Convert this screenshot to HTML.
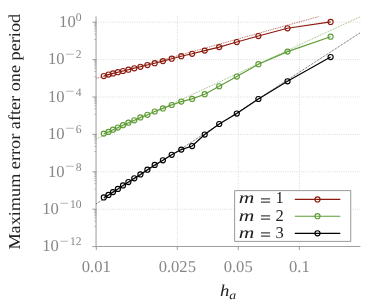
<!DOCTYPE html>
<html><head><meta charset="utf-8"><title>plot</title>
<style>
html,body{margin:0;padding:0;background:#fff;}
body{width:391px;height:304px;overflow:hidden;font-family:"Liberation Serif",serif;}
svg{display:block;will-change:transform;}
text{font-family:"Liberation Serif",serif;text-rendering:geometricPrecision;}
.tl{fill:#878787;}
.sup{font-size:11.5px;}
.dk{fill:#222;}
</style></head><body>
<svg width="391" height="304" viewBox="0 0 391 304">
<rect width="391" height="304" fill="#fff"/>
<g stroke="#808080" stroke-width="0.6" stroke-dasharray="0.65 1.6" opacity="0.7"><line x1="96.3" y1="22.20" x2="360.4" y2="22.20"/><line x1="96.3" y1="59.60" x2="360.4" y2="59.60"/><line x1="96.3" y1="97.00" x2="360.4" y2="97.00"/><line x1="96.3" y1="134.40" x2="360.4" y2="134.40"/><line x1="96.3" y1="171.80" x2="360.4" y2="171.80"/><line x1="96.3" y1="209.20" x2="360.4" y2="209.20"/><line x1="177.3" y1="16.5" x2="177.3" y2="246.5"/><line x1="238.2" y1="16.5" x2="238.2" y2="246.5"/><line x1="299.4" y1="16.5" x2="299.4" y2="246.5"/></g>
<g stroke="#808080" stroke-width="0.75"><line x1="96.05" y1="16.5" x2="96.05" y2="246.5" stroke-width="0.8"/><line x1="96.3" y1="246.5" x2="360.4" y2="246.5"/><line x1="92.3" y1="22.20" x2="96.3" y2="22.20"/><line x1="92.3" y1="59.60" x2="96.3" y2="59.60"/><line x1="92.3" y1="97.00" x2="96.3" y2="97.00"/><line x1="92.3" y1="134.40" x2="96.3" y2="134.40"/><line x1="92.3" y1="171.80" x2="96.3" y2="171.80"/><line x1="92.3" y1="209.20" x2="96.3" y2="209.20"/><line x1="92.3" y1="246.60" x2="96.3" y2="246.60"/><line x1="96.3" y1="246.5" x2="96.3" y2="250.1"/><line x1="177.3" y1="246.5" x2="177.3" y2="250.1"/><line x1="238.2" y1="246.5" x2="238.2" y2="250.1"/><line x1="299.4" y1="246.5" x2="299.4" y2="250.1"/></g>
<g stroke="#808080" stroke-width="0.6" opacity="0.8"><line x1="94.2" y1="23.15" x2="96.3" y2="23.15"/><line x1="94.2" y1="24.22" x2="96.3" y2="24.22"/><line x1="94.2" y1="25.45" x2="96.3" y2="25.45"/><line x1="94.2" y1="26.91" x2="96.3" y2="26.91"/><line x1="94.2" y1="28.68" x2="96.3" y2="28.68"/><line x1="94.2" y1="30.96" x2="96.3" y2="30.96"/><line x1="94.2" y1="34.14" x2="96.3" y2="34.14"/><line x1="94.2" y1="39.42" x2="96.3" y2="39.42"/><line x1="94.2" y1="60.55" x2="96.3" y2="60.55"/><line x1="94.2" y1="61.62" x2="96.3" y2="61.62"/><line x1="94.2" y1="62.85" x2="96.3" y2="62.85"/><line x1="94.2" y1="64.31" x2="96.3" y2="64.31"/><line x1="94.2" y1="66.08" x2="96.3" y2="66.08"/><line x1="94.2" y1="68.36" x2="96.3" y2="68.36"/><line x1="94.2" y1="71.54" x2="96.3" y2="71.54"/><line x1="94.2" y1="76.82" x2="96.3" y2="76.82"/><line x1="94.2" y1="97.95" x2="96.3" y2="97.95"/><line x1="94.2" y1="99.02" x2="96.3" y2="99.02"/><line x1="94.2" y1="100.25" x2="96.3" y2="100.25"/><line x1="94.2" y1="101.71" x2="96.3" y2="101.71"/><line x1="94.2" y1="103.48" x2="96.3" y2="103.48"/><line x1="94.2" y1="105.76" x2="96.3" y2="105.76"/><line x1="94.2" y1="108.94" x2="96.3" y2="108.94"/><line x1="94.2" y1="114.22" x2="96.3" y2="114.22"/><line x1="94.2" y1="135.35" x2="96.3" y2="135.35"/><line x1="94.2" y1="136.42" x2="96.3" y2="136.42"/><line x1="94.2" y1="137.65" x2="96.3" y2="137.65"/><line x1="94.2" y1="139.11" x2="96.3" y2="139.11"/><line x1="94.2" y1="140.88" x2="96.3" y2="140.88"/><line x1="94.2" y1="143.16" x2="96.3" y2="143.16"/><line x1="94.2" y1="146.34" x2="96.3" y2="146.34"/><line x1="94.2" y1="151.62" x2="96.3" y2="151.62"/><line x1="94.2" y1="172.75" x2="96.3" y2="172.75"/><line x1="94.2" y1="173.82" x2="96.3" y2="173.82"/><line x1="94.2" y1="175.05" x2="96.3" y2="175.05"/><line x1="94.2" y1="176.51" x2="96.3" y2="176.51"/><line x1="94.2" y1="178.28" x2="96.3" y2="178.28"/><line x1="94.2" y1="180.56" x2="96.3" y2="180.56"/><line x1="94.2" y1="183.74" x2="96.3" y2="183.74"/><line x1="94.2" y1="189.02" x2="96.3" y2="189.02"/><line x1="94.2" y1="210.15" x2="96.3" y2="210.15"/><line x1="94.2" y1="211.22" x2="96.3" y2="211.22"/><line x1="94.2" y1="212.45" x2="96.3" y2="212.45"/><line x1="94.2" y1="213.91" x2="96.3" y2="213.91"/><line x1="94.2" y1="215.68" x2="96.3" y2="215.68"/><line x1="94.2" y1="217.96" x2="96.3" y2="217.96"/><line x1="94.2" y1="221.14" x2="96.3" y2="221.14"/><line x1="94.2" y1="226.42" x2="96.3" y2="226.42"/></g>
<g stroke-width="0.75" stroke-dasharray="0.9 0.9" fill="none" opacity="0.9"><line x1="96.3" y1="78.3" x2="318.84" y2="16.50" stroke="#8b1a0e"/><line x1="96.3" y1="138.9" x2="360.40" y2="16.65" stroke="#5e9c36"/><line x1="96.3" y1="203.8" x2="360.40" y2="32.66" stroke="#000000"/></g>
<g stroke="#8b1a0e" fill="none"><polyline stroke-width="1.15" stroke-linejoin="round" points="103.8,76.1 108.5,74.6 113.0,73.4 117.9,72.2 123.0,71.0 128.4,69.7 134.3,68.3 140.4,66.8 147.4,65.0 154.7,63.2 162.9,61.1 171.7,58.7 181.3,56.2 192.1,53.8 204.7,50.6 219.2,47.1 236.8,42.0 258.4,36.0 287.5,28.3 330.6,21.9"/><circle cx="103.8" cy="76.1" r="2.55" stroke-width="1.15"/><circle cx="108.5" cy="74.6" r="2.55" stroke-width="1.15"/><circle cx="113.0" cy="73.4" r="2.55" stroke-width="1.15"/><circle cx="117.9" cy="72.2" r="2.55" stroke-width="1.15"/><circle cx="123.0" cy="71.0" r="2.55" stroke-width="1.15"/><circle cx="128.4" cy="69.7" r="2.55" stroke-width="1.15"/><circle cx="134.3" cy="68.3" r="2.55" stroke-width="1.15"/><circle cx="140.4" cy="66.8" r="2.55" stroke-width="1.15"/><circle cx="147.4" cy="65.0" r="2.55" stroke-width="1.15"/><circle cx="154.7" cy="63.2" r="2.55" stroke-width="1.15"/><circle cx="162.9" cy="61.1" r="2.55" stroke-width="1.15"/><circle cx="171.7" cy="58.7" r="2.55" stroke-width="1.15"/><circle cx="181.3" cy="56.2" r="2.55" stroke-width="1.15"/><circle cx="192.1" cy="53.8" r="2.55" stroke-width="1.15"/><circle cx="204.7" cy="50.6" r="2.55" stroke-width="1.15"/><circle cx="219.2" cy="47.1" r="2.55" stroke-width="1.15"/><circle cx="236.8" cy="42.0" r="2.55" stroke-width="1.15"/><circle cx="258.4" cy="36.0" r="2.55" stroke-width="1.15"/><circle cx="287.5" cy="28.3" r="2.55" stroke-width="1.15"/><circle cx="330.6" cy="21.9" r="2.55" stroke-width="1.15"/></g>
<g stroke="#5e9c36" fill="none"><polyline stroke-width="1.15" stroke-linejoin="round" points="103.8,133.6 108.5,131.9 113.0,129.7 117.9,127.6 123.0,125.2 128.4,122.7 134.3,120.3 140.4,117.4 147.4,114.8 154.7,111.5 162.9,108.4 171.7,105.0 181.3,101.6 192.1,98.9 204.7,94.2 219.2,86.3 236.8,76.6 258.4,64.2 287.5,51.6 330.6,36.7"/><circle cx="103.8" cy="133.6" r="2.55" stroke-width="1.15"/><circle cx="108.5" cy="131.9" r="2.55" stroke-width="1.15"/><circle cx="113.0" cy="129.7" r="2.55" stroke-width="1.15"/><circle cx="117.9" cy="127.6" r="2.55" stroke-width="1.15"/><circle cx="123.0" cy="125.2" r="2.55" stroke-width="1.15"/><circle cx="128.4" cy="122.7" r="2.55" stroke-width="1.15"/><circle cx="134.3" cy="120.3" r="2.55" stroke-width="1.15"/><circle cx="140.4" cy="117.4" r="2.55" stroke-width="1.15"/><circle cx="147.4" cy="114.8" r="2.55" stroke-width="1.15"/><circle cx="154.7" cy="111.5" r="2.55" stroke-width="1.15"/><circle cx="162.9" cy="108.4" r="2.55" stroke-width="1.15"/><circle cx="171.7" cy="105.0" r="2.55" stroke-width="1.15"/><circle cx="181.3" cy="101.6" r="2.55" stroke-width="1.15"/><circle cx="192.1" cy="98.9" r="2.55" stroke-width="1.15"/><circle cx="204.7" cy="94.2" r="2.55" stroke-width="1.15"/><circle cx="219.2" cy="86.3" r="2.55" stroke-width="1.15"/><circle cx="236.8" cy="76.6" r="2.55" stroke-width="1.15"/><circle cx="258.4" cy="64.2" r="2.55" stroke-width="1.15"/><circle cx="287.5" cy="51.6" r="2.55" stroke-width="1.15"/><circle cx="330.6" cy="36.7" r="2.55" stroke-width="1.15"/></g>
<g stroke="#000000" fill="none"><polyline stroke-width="1.15" stroke-linejoin="round" points="103.8,197.4 108.5,194.9 113.0,192.1 117.9,188.9 123.0,185.4 128.4,182.0 134.3,178.3 140.4,174.4 147.4,169.7 154.7,164.9 162.9,160.3 171.7,154.8 181.3,149.6 192.1,146.0 204.7,134.5 219.2,124.0 236.8,113.6 258.4,99.0 287.5,81.3 330.6,57.0"/><circle cx="103.8" cy="197.4" r="2.55" stroke-width="1.15"/><circle cx="108.5" cy="194.9" r="2.55" stroke-width="1.15"/><circle cx="113.0" cy="192.1" r="2.55" stroke-width="1.15"/><circle cx="117.9" cy="188.9" r="2.55" stroke-width="1.15"/><circle cx="123.0" cy="185.4" r="2.55" stroke-width="1.15"/><circle cx="128.4" cy="182.0" r="2.55" stroke-width="1.15"/><circle cx="134.3" cy="178.3" r="2.55" stroke-width="1.15"/><circle cx="140.4" cy="174.4" r="2.55" stroke-width="1.15"/><circle cx="147.4" cy="169.7" r="2.55" stroke-width="1.15"/><circle cx="154.7" cy="164.9" r="2.55" stroke-width="1.15"/><circle cx="162.9" cy="160.3" r="2.55" stroke-width="1.15"/><circle cx="171.7" cy="154.8" r="2.55" stroke-width="1.15"/><circle cx="181.3" cy="149.6" r="2.55" stroke-width="1.15"/><circle cx="192.1" cy="146.0" r="2.55" stroke-width="1.15"/><circle cx="204.7" cy="134.5" r="2.55" stroke-width="1.15"/><circle cx="219.2" cy="124.0" r="2.55" stroke-width="1.15"/><circle cx="236.8" cy="113.6" r="2.55" stroke-width="1.15"/><circle cx="258.4" cy="99.0" r="2.55" stroke-width="1.15"/><circle cx="287.5" cy="81.3" r="2.55" stroke-width="1.15"/><circle cx="330.6" cy="57.0" r="2.55" stroke-width="1.15"/></g>
<rect x="234.7" y="190.7" width="116.1" height="50.6" fill="#fff" stroke="#808080" stroke-width="0.8"/>
<line x1="294.8" y1="199.4" x2="340.3" y2="199.4" stroke="#8b1a0e" stroke-width="1.15"/>
<circle cx="317.5" cy="199.4" r="2.55" stroke="#8b1a0e" stroke-width="1.15" fill="none"/>
<text class="dk" font-size="16.5" font-style="italic" x="238.7" y="203.4" textLength="15.6" lengthAdjust="spacingAndGlyphs">m</text>
<text fill="#484848" font-size="16.5" font-weight="bold" x="259.9" y="205.6" textLength="11.2" lengthAdjust="spacingAndGlyphs">=</text>
<text class="dk" font-size="16.5" x="275.6" y="203.4">1</text>
<line x1="294.8" y1="216.2" x2="340.3" y2="216.2" stroke="#5e9c36" stroke-width="1.15"/>
<circle cx="317.5" cy="216.2" r="2.55" stroke="#5e9c36" stroke-width="1.15" fill="none"/>
<text class="dk" font-size="16.5" font-style="italic" x="238.7" y="220.5" textLength="15.6" lengthAdjust="spacingAndGlyphs">m</text>
<text fill="#484848" font-size="16.5" font-weight="bold" x="259.9" y="222.7" textLength="11.2" lengthAdjust="spacingAndGlyphs">=</text>
<text class="dk" font-size="16.5" x="275.6" y="220.5">2</text>
<line x1="294.8" y1="233.3" x2="340.3" y2="233.3" stroke="#000000" stroke-width="1.15"/>
<circle cx="317.5" cy="233.3" r="2.55" stroke="#000000" stroke-width="1.15" fill="none"/>
<text class="dk" font-size="16.5" font-style="italic" x="238.7" y="237.6" textLength="15.6" lengthAdjust="spacingAndGlyphs">m</text>
<text fill="#484848" font-size="16.5" font-weight="bold" x="259.9" y="239.79999999999998" textLength="11.2" lengthAdjust="spacingAndGlyphs">=</text>
<text class="dk" font-size="16.5" x="275.6" y="237.6">3</text>
<text class="tl" font-size="11.6" x="75.70" y="20.90">0</text>
<text class="tl" font-size="16.6" text-anchor="end" x="75.70" y="26.90">10</text>
<text class="tl" font-size="11.6" x="75.70" y="58.30">2</text>
<text class="tl" font-size="11.6" x="65.30" y="57.50" textLength="9.40" lengthAdjust="spacingAndGlyphs">−</text>
<text class="tl" font-size="16.6" text-anchor="end" x="64.60" y="64.30">10</text>
<text class="tl" font-size="11.6" x="75.70" y="95.70">4</text>
<text class="tl" font-size="11.6" x="65.30" y="94.90" textLength="9.40" lengthAdjust="spacingAndGlyphs">−</text>
<text class="tl" font-size="16.6" text-anchor="end" x="64.60" y="101.70">10</text>
<text class="tl" font-size="11.6" x="75.70" y="133.10">6</text>
<text class="tl" font-size="11.6" x="65.30" y="132.30" textLength="9.40" lengthAdjust="spacingAndGlyphs">−</text>
<text class="tl" font-size="16.6" text-anchor="end" x="64.60" y="139.10">10</text>
<text class="tl" font-size="11.6" x="75.70" y="170.50">8</text>
<text class="tl" font-size="11.6" x="65.30" y="169.70" textLength="9.40" lengthAdjust="spacingAndGlyphs">−</text>
<text class="tl" font-size="16.6" text-anchor="end" x="64.60" y="176.50">10</text>
<text class="tl" font-size="11.6" x="69.90" y="207.90">10</text>
<text class="tl" font-size="11.6" x="59.50" y="207.10" textLength="9.40" lengthAdjust="spacingAndGlyphs">−</text>
<text class="tl" font-size="16.6" text-anchor="end" x="58.80" y="213.90">10</text>
<text class="tl" font-size="11.6" x="69.90" y="245.30">12</text>
<text class="tl" font-size="11.6" x="59.50" y="244.50" textLength="9.40" lengthAdjust="spacingAndGlyphs">−</text>
<text class="tl" font-size="16.6" text-anchor="end" x="58.80" y="251.30">10</text>
<text class="tl" font-size="16.6" text-anchor="middle" x="96.3" y="271.7">0.01</text>
<text class="tl" font-size="16.6" text-anchor="middle" x="177.3" y="271.7">0.025</text>
<text class="tl" font-size="16.6" text-anchor="middle" x="238.2" y="271.7">0.05</text>
<text class="tl" font-size="16.6" text-anchor="middle" x="299.4" y="271.7">0.1</text>
<text class="dk" font-size="16.6" font-style="italic" x="220.1" y="296.1" textLength="9.4" lengthAdjust="spacingAndGlyphs">h</text>
<text class="dk" font-size="11.6" font-style="italic" x="229.2" y="298.7" textLength="6.9" lengthAdjust="spacingAndGlyphs">a</text>
<text class="dk" font-size="16.6" text-anchor="middle" transform="translate(19.7,131.75) rotate(-90)" textLength="235.7" lengthAdjust="spacingAndGlyphs">Maximum error after one period</text>
</svg></body></html>
